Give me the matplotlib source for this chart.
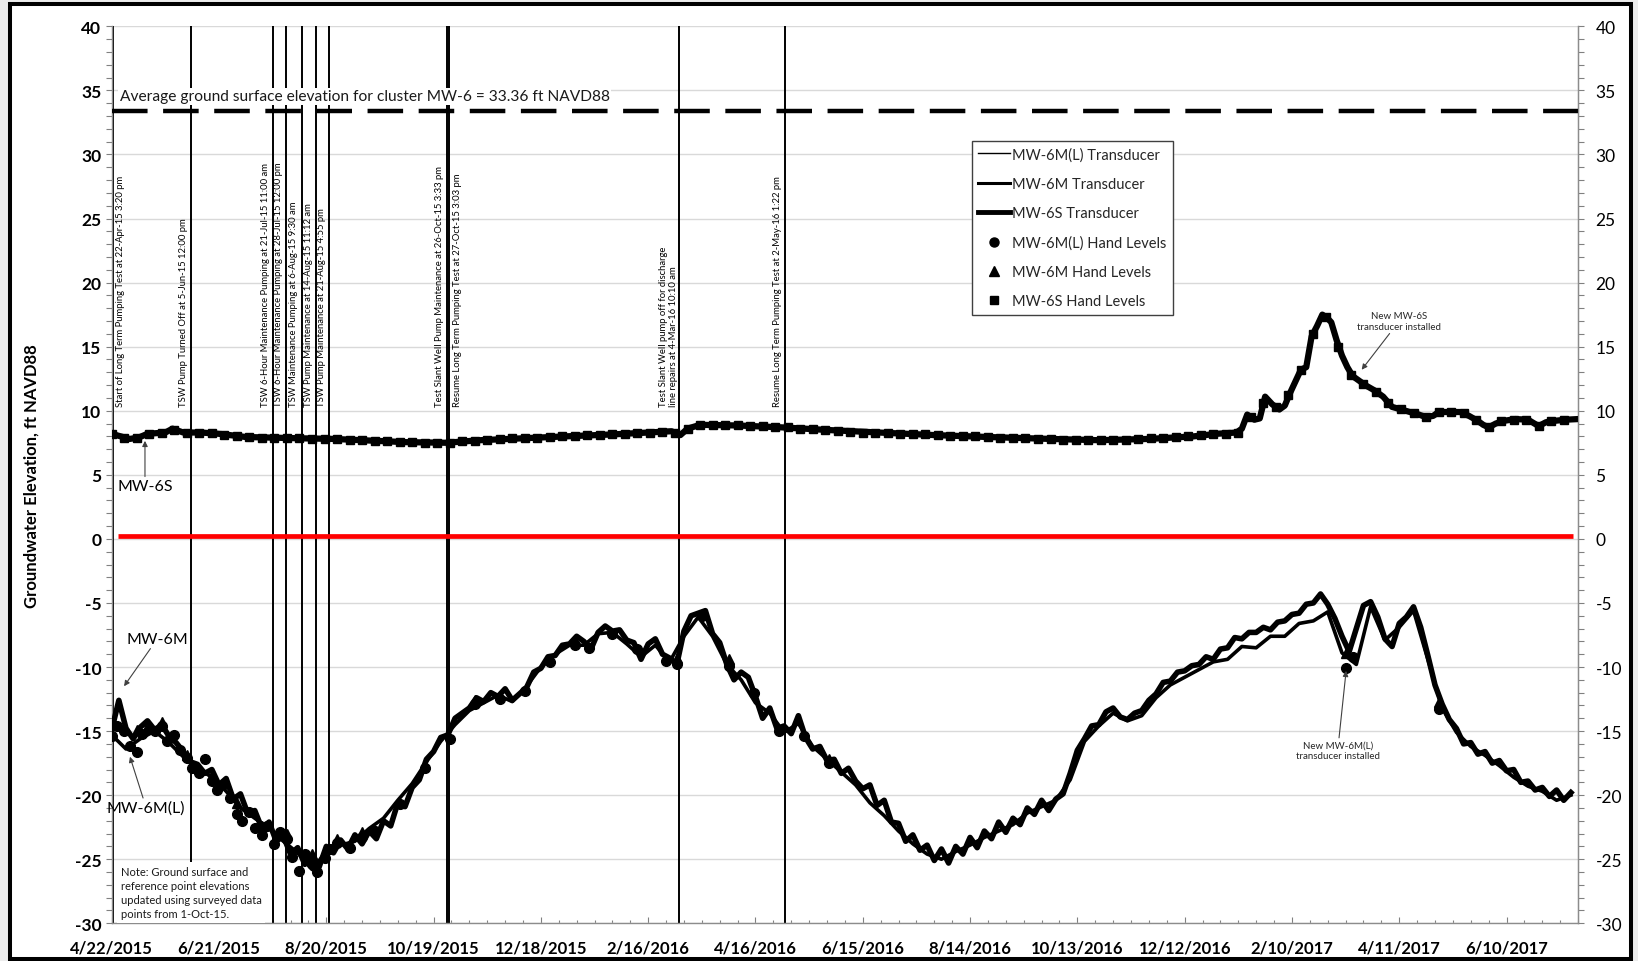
import datetime as dt
import numpy as np
import matplotlib
matplotlib.use("Agg")
import matplotlib.pyplot as plt
import matplotlib.dates as mdates
from matplotlib.patches import Rectangle
from matplotlib.lines import Line2D
from matplotlib.ticker import FixedLocator, MultipleLocator, FuncFormatter

plt.rcParams['font.family'] = ['Lato', 'DejaVu Sans']

# --- DATI ---------------------------------------------------------------
# all x values are days since 4/22/2015 (start of the long term test)
START = dt.datetime(2015, 4, 22)

# MW-6M transducer, one reading every 4 days
mw6m_vals = [
    -14.9, -12.6, -14.8, -15.6, -14.7, -14.2, -14.9, -14.5, -15.4, -15.9,
    -16.6, -17.4, -17.6, -18.3, -18.0, -19.2, -18.7, -20.3, -19.9, -21.4,
    -21.2, -22.6, -22.1, -23.6, -23.2, -24.6, -24.1, -25.4, -24.7, -25.6,
    -24.0, -24.5, -23.5, -24.2, -23.1, -23.8, -22.8, -23.4, -22.0, -22.4,
    -20.6, -20.9, -19.4, -18.8, -17.2, -16.6, -15.5, -15.3, -14.0, -13.6,
    -13.2, -12.4, -12.7, -12.0, -12.3, -11.7, -12.6, -12.1, -11.6, -10.4,
    -10.1, -9.2, -9.1, -8.3, -8.2, -7.6, -8.0, -8.6, -7.3, -6.8,
    -7.2, -7.1, -7.9, -8.1, -9.4, -8.2, -7.8, -9.0, -9.3, -9.8,
    -7.2, -6.0, -5.8, -5.6, -7.4, -8.1, -9.8, -11.0, -10.4, -10.8,
    -12.3, -14.0, -13.2, -14.8, -14.6, -15.2, -13.8, -15.5, -16.4, -16.2,
    -17.3, -17.2, -18.3, -17.9, -18.9, -19.5, -19.2, -20.8, -20.4, -22.1,
    -22.2, -23.6, -23.1, -24.3, -23.9, -25.1, -24.2, -25.3, -24.0, -24.6,
    -23.3, -24.1, -22.8, -23.4, -22.1, -22.9, -21.8, -22.3, -21.0, -21.5,
    -20.4, -21.2, -20.3, -19.9, -18.3, -16.5, -15.6, -14.6, -14.5, -13.5,
    -13.2, -13.9, -14.1, -13.6, -13.4, -12.6, -12.1, -11.2, -11.1, -10.4,
    -10.3, -9.9, -9.8, -9.2, -9.4, -8.6, -8.5, -7.7, -7.8, -7.3,
    -7.3, -6.9, -7.1, -6.5, -6.4, -5.9, -5.8, -5.1, -5.0, -4.3,
    -5.1, -6.2, -7.6, -8.8, -7.0, -5.2, -4.9, -6.1, -7.8, -8.4,
    -6.6, -6.1, -5.3, -6.9, -9.1, -11.4, -12.9, -14.1, -14.8, -16.0,
    -15.9, -16.8, -16.6, -17.5, -17.3, -18.1, -18.0, -19.0, -18.9, -19.6,
    -19.4, -20.1, -19.6, -20.4, -19.8,
]
mw6m_days = np.arange(len(mw6m_vals)) * 4

# MW-6M(L) transducer, one reading every 8 days
mw6ml_vals = [
    -15.3, -16.4, -15.6, -15.0, -15.9, -17.0, -17.9, -18.6, -19.7, -21.0,
    -21.8, -22.6, -23.6, -24.5, -25.8, -24.4, -23.9, -23.6, -22.6, -21.8,
    -20.4, -19.1, -17.4, -15.8, -14.5, -13.4, -12.8, -12.2, -12.7, -11.5,
    -10.0, -9.0, -8.3, -8.3, -7.4, -7.3, -8.2, -9.2, -8.3, -9.6,
    -7.6, -6.1, -7.6, -9.8, -11.0, -12.8, -13.6, -15.1, -14.4, -16.2,
    -17.2, -18.2, -19.2, -20.6, -21.6, -22.8, -23.8, -24.6, -25.0, -24.4,
    -23.9, -23.3, -22.8, -22.3, -21.4, -20.9, -20.4, -18.8, -15.8, -14.6,
    -13.6, -14.2, -13.8, -12.4, -11.4, -10.8, -10.2, -9.6, -9.4, -8.4,
    -8.5, -7.6, -7.6, -6.6, -6.4, -5.7, -8.9, -9.8, -5.3, -7.9,
    -6.9, -5.6, -9.4, -13.2, -15.1, -16.2, -16.9, -17.7, -18.6, -19.3,
    -19.7, -20.4, -20.0,
]
mw6ml_days = np.arange(len(mw6ml_vals)) * 8

# MW-6S transducer
mw6s_days = [0, 5, 10, 15, 20, 30, 34, 40, 50, 60,
             75, 90, 105, 124, 140, 164, 187, 206, 230, 254,
             280, 300, 313, 318, 322, 329, 350, 375, 400, 429,
             460, 490, 525, 552, 580, 605, 618, 629, 632, 635,
             639, 642, 645, 649, 653, 656, 659, 662, 665, 668,
             671, 674, 677, 680, 682, 685, 688, 691, 694, 698,
             701, 706, 711, 716, 721, 726, 731, 735, 739, 742,
             748, 754, 759, 764, 767, 770, 774, 778, 785, 792,
             798, 802, 806, 813, 820]
mw6s_vals = [8.2, 8.0, 7.8, 7.9, 8.2, 8.3, 8.6, 8.3, 8.3, 8.2,
             7.95, 7.9, 7.85, 7.8, 7.7, 7.55, 7.5, 7.7, 7.85, 8.0,
             8.15, 8.3, 8.4, 8.1, 8.6, 8.9, 8.85, 8.7, 8.5, 8.3,
             8.1, 7.95, 7.8, 7.7, 7.8, 8.0, 8.2, 8.3, 8.6, 9.7,
             9.3, 9.4, 11.1, 10.5, 10.1, 10.4, 11.4, 12.3, 13.2, 13.4,
             15.8, 16.6, 17.5, 17.2, 16.9, 15.5, 14.3, 13.4, 12.7, 12.3,
             12.0, 11.6, 11.1, 10.3, 10.1, 9.9, 9.7, 9.5, 9.6, 9.9,
             9.9, 9.9, 9.6, 9.2, 8.9, 8.7, 9.0, 9.2, 9.35, 9.3,
             8.8, 9.1, 9.2, 9.3, 9.35]

# hand levels
ml_hand_days = [0, 3, 7, 10, 14, 17, 21, 24, 28, 31,
                35, 38, 42, 45, 49, 52, 56, 59, 63, 66,
                70, 73, 77, 80, 84, 87, 91, 94, 98, 101,
                105, 108, 112, 115, 119, 122, 126, 133, 140, 147,
                161, 175, 189, 203, 217, 231, 245, 259, 267, 280,
                294, 310, 316, 330, 345, 359, 373, 387, 401, 690,
                694, 742]
ml_hand_vals = [-15.4, -14.6, -15.0, -16.2, -16.6, -15.2, -14.8, -15.0, -14.6, -15.8,
                -15.3, -16.5, -17.1, -17.9, -18.3, -17.2, -18.9, -19.6, -19.1, -20.2,
                -21.5, -22.0, -21.3, -22.6, -23.1, -22.4, -23.8, -22.9, -23.4, -24.8,
                -25.9, -24.6, -25.4, -26.0, -24.9, -24.2, -23.7, -24.1, -23.3, -22.8,
                -20.7, -17.9, -15.6, -12.9, -12.5, -11.9, -9.6, -8.3, -8.5, -7.4,
                -8.6, -9.5, -9.8, -6.0, -9.9, -12.0, -15.0, -15.4, -17.5, -10.1,
                -9.2, -13.3]
m_hand_days = [0, 14, 28, 42, 56, 70, 84, 98, 112, 126, 140, 203, 259, 316, 345, 401, 690, 742]
m_hand_vals = [-14.5, -14.9, -14.3, -16.9, -18.4, -20.6, -22.4, -23.0, -24.6, -23.4,
               -22.9, -12.6, -8.0, -9.3, -9.4, -17.2, -8.9, -12.7]
# MW-6S hand levels, weekly
s_hand_vals = [8.2, 7.9, 7.85, 8.2, 8.3, 8.5, 8.3, 8.3, 8.25, 8.1,
               8.0, 7.95, 7.9, 7.9, 7.85, 7.85, 7.8, 7.8, 7.8, 7.75,
               7.7, 7.65, 7.6, 7.55, 7.55, 7.5, 7.5, 7.5, 7.6, 7.65,
               7.7, 7.8, 7.85, 7.9, 7.9, 7.95, 8.0, 8.05, 8.1, 8.1,
               8.15, 8.2, 8.25, 8.3, 8.35, 8.3, 8.6, 8.9, 8.9, 8.85,
               8.85, 8.8, 8.8, 8.75, 8.7, 8.6, 8.55, 8.5, 8.45, 8.35,
               8.3, 8.3, 8.25, 8.2, 8.2, 8.15, 8.1, 8.05, 8.0, 8.0,
               7.95, 7.9, 7.9, 7.85, 7.8, 7.8, 7.75, 7.75, 7.7, 7.7,
               7.75, 7.75, 7.8, 7.85, 7.9, 7.95, 8.0, 8.1, 8.15, 8.2,
               8.3, 9.5, 10.6, 10.3, 11.2, 13.2, 16.0, 17.3, 15.0, 12.8,
               12.1, 11.5, 10.6, 10.1, 9.8, 9.5, 9.9, 9.9, 9.8, 9.3,
               8.7, 9.2, 9.3, 9.3, 8.8, 9.2, 9.3]
s_hand_days = np.arange(len(s_hand_vals)) * 7

ground_surface = 33.36
red_level = 0.25

# pumping events
event_times = ['2015-04-22 15:20', '2015-06-05 12:00', '2015-07-21 11:00', '2015-07-28 12:00',
               '2015-08-06 09:30', '2015-08-14 11:12', '2015-08-21 16:55', '2015-10-26 15:33',
               '2015-10-27 15:03', '2016-03-04 10:10', '2016-05-02 13:22']
event_labels = [
    "Start of Long Term Pumping Test at 22-Apr-15 3:20 pm",
    "TSW Pump Turned Off at 5-Jun-15 12:00 pm",
    "TSW 6-Hour Maintenance Pumping at 21-Jul-15 11:00 am",
    "TSW 6-Hour Maintenance Pumping at 28-Jul-15 12:00 pm",
    "TSW Maintenance Pumping at 6-Aug-15 9:30 am",
    "TSW Pump Maintenance at 14-Aug-15 11:12 am",
    "TSW Pump Maintenance at 21-Aug-15 4:55 pm",
    "Test Slant Well Pump Maintenance at 26-Oct-15 3:33 pm",
    "Resume Long Term Pumping Test at 27-Oct-15 3:03 pm",
    "Test Slant Well pump off for discharge\nline repairs at 4-Mar-16 10:10 am",
    "Resume Long Term Pumping Test at 2-May-16 1:22 pm",
]

x_max_days = 820
tick_every = 60


def to_x(days):
    return mdates.date2num(START) + np.asarray(days, dtype=float)


def date_label(v, pos=None):
    d = mdates.num2date(v)
    return f"{d.month}/{d.day}/{d.year}"


# --- FIGURA -------------------------------------------------------------
fig = plt.figure(figsize=(16.38, 9.62), dpi=100, facecolor='#ececec')
# cornice nera esterna (dietro agli assi)
fig.patches.append(Rectangle((0.0058, 0.002), 0.9899, 0.9923, transform=fig.transFigure,
                             facecolor='white', edgecolor='black', linewidth=2.9, zorder=-5))

ax = fig.add_axes([0.0682, 0.0392, 0.8952, 0.9324])
ax.set_facecolor('white')

x0 = to_x(0)
ax.set_xlim(x0, to_x(x_max_days))
ax.set_ylim(-30, 40)

# griglia orizzontale
ax.yaxis.set_major_locator(MultipleLocator(5))
ax.yaxis.set_minor_locator(MultipleLocator(1))
ax.grid(axis='y', which='major', color='#d9d9d9', linewidth=1.0, zorder=0)
ax.set_axisbelow(True)

# x ticks
ax.xaxis.set_major_locator(FixedLocator(to_x(np.arange(0, x_max_days, tick_every))))
ax.xaxis.set_minor_locator(FixedLocator(to_x(np.arange(0, x_max_days + 1, 10))))
ax.xaxis.set_major_formatter(FuncFormatter(date_label))
ax.tick_params(axis='x', which='major', direction='in', length=4, width=0.8, color='#808080',
               pad=12, labelsize=12)
ax.tick_params(axis='x', which='minor', direction='in', length=2, width=0.8, color='#808080')
for lab in ax.get_xticklabels():
    lab.set_fontweight('bold')

ax.tick_params(axis='y', which='both', direction='out', length=4.5, width=0.8, color='#808080',
               labelsize=12.5, pad=3)
ax.yaxis.set_major_formatter(FuncFormatter(lambda v, p: f"{v:.0f}"))
for lab in ax.get_yticklabels():
    lab.set_fontweight('bold')

for side in ['left', 'bottom', 'right']:
    ax.spines[side].set_color('#8c8c8c')
    ax.spines[side].set_linewidth(1.0)
ax.spines['top'].set_visible(False)

# asse destro
ax2 = ax.twinx()
ax2.set_ylim(-30, 40)
ax2.yaxis.set_major_locator(MultipleLocator(5))
ax2.yaxis.set_minor_locator(MultipleLocator(1))
ax2.yaxis.set_major_formatter(FuncFormatter(lambda v, p: f"{v:.0f}"))
ax2.tick_params(axis='y', which='both', direction='out', length=4.5, width=0.8, color='#808080',
                labelsize=12.5, pad=8)
for side in ['left', 'bottom', 'top']:
    ax2.spines[side].set_visible(False)
ax2.spines['right'].set_color('#8c8c8c')

ax.set_ylabel("Groundwater Elevation, ft NAVD88", fontsize=12, fontweight='bold')
ax.yaxis.set_label_coords(-0.0495, 0.5)

# linee degli eventi
for t, lab in zip(event_times, event_labels):
    xe = mdates.date2num(dt.datetime.strptime(t, '%Y-%m-%d %H:%M'))
    ax.axvline(xe, color='black', linewidth=1.4, zorder=2)
    if lab.startswith("Start") or "27-Oct" in lab:
        off = 5.8
    elif "\n" in lab:
        off = -7.8
    else:
        off = -5.8
    ax.annotate(lab, xy=(xe, 10.4), xytext=(off, 0), textcoords='offset points',
                rotation=90, ha='center', va='bottom', multialignment='left',
                fontsize=6.8, color='black', zorder=6)

# livello medio del terreno e linea rossa
ax.axhline(ground_surface, color='black', linewidth=3.2, dashes=(8, 3.5), zorder=3)
ax.text(to_x(4.5), 34.55, f"Average ground surface elevation for cluster MW-6 = {ground_surface:.2f} ft NAVD88",
        fontsize=11.2, va='center', ha='left', color='#1a1a1a', zorder=7,
        bbox=dict(facecolor='white', edgecolor='none', pad=1.0))
ax.plot(to_x([3.5, 817]), [red_level, red_level], color='#ff0000', linewidth=3.4,
        solid_capstyle='butt', zorder=3)

# serie (i trasduttori registrano molto rumore: linee spesse)
ax.plot(to_x(mw6ml_days), mw6ml_vals, color='black', linewidth=2.6, zorder=4)
ax.plot(to_x(mw6m_days), mw6m_vals, color='black', linewidth=4.0, zorder=4)
ax.plot(to_x(mw6s_days), mw6s_vals, color='black', linewidth=4.5, zorder=4)
ax.plot(to_x(ml_hand_days), ml_hand_vals, ls='none', marker='o', ms=7, color='black', zorder=5)
ax.plot(to_x(m_hand_days), m_hand_vals, ls='none', marker='^', ms=6.5, color='black', zorder=5)
ax.plot(to_x(s_hand_days), s_hand_vals, ls='none', marker='s', ms=6, color='black', zorder=5)

handles = [
    Line2D([], [], color='black', lw=1.0),
    Line2D([], [], color='black', lw=2.2),
    Line2D([], [], color='black', lw=3.5),
    Line2D([], [], ls='none', marker='o', ms=6.5, color='black'),
    Line2D([], [], ls='none', marker='^', ms=6.5, color='black'),
    Line2D([], [], ls='none', marker='s', ms=6, color='black'),
]
labels = ['MW-6M(L) Transducer', 'MW-6M Transducer', 'MW-6S Transducer',
          'MW-6M(L) Hand Levels', 'MW-6M Hand Levels', 'MW-6S Hand Levels']
leg = ax.legend(handles, labels, loc='upper left', bbox_to_anchor=(0.5865, 0.8725), borderaxespad=0,
                fontsize=10.5, handlelength=2.2, handletextpad=0.1, labelspacing=1.05,
                fancybox=False, edgecolor='#404040', framealpha=1, borderpad=0.45)
leg.get_frame().set_linewidth(1.0)
leg.set_zorder(8)
for txt in leg.get_texts():
    txt.set_color('#262626')

# etichette con freccia
arrow = dict(arrowstyle='-|>', color='#404040', lw=0.8, mutation_scale=8, shrinkA=0, shrinkB=0)
ax.annotate("MW-6S", xy=(to_x(18.6), 7.65), xytext=(to_x(18.6), 4.1), fontsize=11.5,
            ha='center', va='center', arrowprops=arrow, zorder=7)
ax.annotate("MW-6M", xy=(to_x(6.9), -11.5), xytext=(to_x(25.5), -7.8), fontsize=11.5,
            ha='center', va='center', arrowprops=arrow, zorder=7)
ax.annotate("MW-6M(L)", xy=(to_x(10.2), -17.0), xytext=(to_x(19.3), -21.0), fontsize=11.5,
            ha='center', va='center', arrowprops=arrow, zorder=7)
ax.annotate("New MW-6S\ntransducer installed", xy=(to_x(699), 13.2), xytext=(to_x(720), 17.0),
            fontsize=7, ha='center', va='center', color='#262626', arrowprops=arrow, zorder=7)
ax.annotate("New MW-6M(L)\ntransducer installed", xy=(to_x(690.3), -10.3), xytext=(to_x(685.6), -16.5),
            fontsize=7, ha='center', va='center', color='#262626', arrowprops=arrow, zorder=7)

ax.text(to_x(5), -27.6,
        "Note: Ground surface and\nreference point elevations\nupdated using surveyed data\npoints from 1-Oct-15.",
        fontsize=8, ha='left', va='center', linespacing=1.35, color='#1a1a1a', zorder=7,
        bbox=dict(facecolor='white', edgecolor='none', pad=2.5))

fig.savefig('out.png', dpi=100, facecolor=fig.get_facecolor())
